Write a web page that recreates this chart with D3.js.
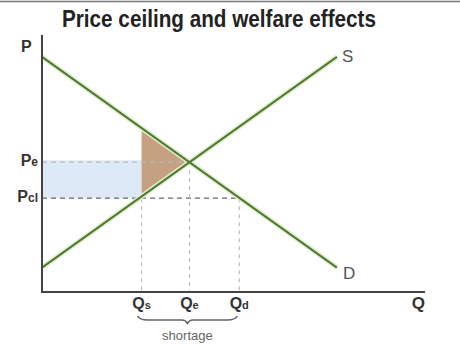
<!DOCTYPE html>
<html>
<head>
<meta charset="utf-8">
<script src="https://cdn.jsdelivr.net/npm/d3@7"></script>
<style>
  html, body { margin: 0; padding: 0; background: #fff; }
  svg { display: block; font-family: "Liberation Sans", Arial, sans-serif; }
</style>
</head>
<body>
<div id="chart"></div>
<script>
// curve endpoints in (quantity, price) units
const demandPts = [[0, 9.15], [7.7, 0.95]];
const supplyPts = [[0, 0.95], [7.7, 9.15]];
const Pe = 5.05, Pcl = 3.65;
const Qs = 2.6, Qe = 3.85, Qd = 5.15;
const dwlPts = [[2.6, 6.38], [3.85, 5.05], [2.6, 3.72]];
const qLabels = [
  { q: Qs, main: "Q", sub: "s" },
  { q: Qe, main: "Q", sub: "e" },
  { q: Qd, main: "Q", sub: "d" }
];
const pLabels = [
  { p: Pe, main: "P", sub: "e" },
  { p: Pcl, main: "P", sub: "cl" }
];

const W = 460, H = 354;
const svg = d3.select('#chart').append('svg')
  .attr('width', W).attr('height', H);

const x = d3.scaleLinear().domain([0, 10]).range([42, 425]);
const y = d3.scaleLinear().domain([0, 10]).range([292, 35]);

// top frame line
svg.append('line')
  .attr('x1', 0).attr('x2', W).attr('y1', 1.5).attr('y2', 1.5)
  .attr('stroke', '#777').attr('stroke-width', 1.5);

// title
svg.append('text')
  .attr('x', 62).attr('y', 27)
  .attr('textLength', 314).attr('lengthAdjust', 'spacingAndGlyphs')
  .style('font-size', '23px').style('font-weight', 'bold')
  .attr('fill', '#222')
  .text('Price ceiling and welfare effects');

// light blue area (transfer)
svg.append('rect')
  .attr('x', x(0)).attr('y', y(Pe) - 2)
  .attr('width', x(Qs) - x(0)).attr('height', y(Pcl) - y(Pe) + 2)
  .attr('fill', '#dde9f6');

// deadweight loss
svg.append('path')
  .attr('d', d3.line().x(d => x(d[0])).y(d => y(d[1]))(dwlPts) + 'Z')
  .attr('fill', '#c6a181');

// dashed guides
const guide = svg.append('g').attr('fill', 'none');
guide.append('line')
  .attr('x1', x(0)).attr('x2', x(Qe)).attr('y1', y(Pe)).attr('y2', y(Pe))
  .attr('stroke', '#bbb').attr('stroke-width', 1.2).attr('stroke-dasharray', '5,4');
guide.append('line')
  .attr('x1', x(0)).attr('x2', x(Qd)).attr('y1', y(Pcl)).attr('y2', y(Pcl))
  .attr('stroke', '#666').attr('stroke-width', 1.2).attr('stroke-dasharray', '5,4');
[[Qs, Pcl], [Qe, Pe], [Qd, Pcl]].forEach(([q, p]) => {
  guide.append('line')
    .attr('x1', x(q)).attr('x2', x(q)).attr('y1', y(p)).attr('y2', y(0))
    .attr('stroke', '#bbb').attr('stroke-width', 1.2).attr('stroke-dasharray', '4,4');
});

// curves
const line = d3.line().x(d => x(d[0])).y(d => y(d[1]));
[demandPts, supplyPts].forEach(pts => {
  svg.append('path').attr('d', line(pts))
    .attr('stroke', '#e3eed2').attr('stroke-width', 5).attr('fill', 'none');
});
[demandPts, supplyPts].forEach(pts => {
  svg.append('path').attr('d', line(pts))
    .attr('stroke', '#4e7b30').attr('stroke-width', 2).attr('fill', 'none');
});

svg.append('text')
  .attr('x', x(supplyPts[1][0]) + 5).attr('y', y(supplyPts[1][1]) + 5)
  .style('font-size', '17px').attr('fill', '#555').text('S');
svg.append('text')
  .attr('x', x(demandPts[1][0]) + 6).attr('y', y(demandPts[1][1]) + 11)
  .style('font-size', '17px').attr('fill', '#555').text('D');

// axes
svg.append('path')
  .attr('d', `M${x(0)},${y(10)}V${y(0)}H${x(10)}`)
  .attr('stroke', '#444').attr('stroke-width', 2).attr('fill', 'none');

svg.append('text')
  .attr('x', 21).attr('y', 52)
  .style('font-size', '16px').style('font-weight', 'bold')
  .attr('fill', '#333').text('P');
svg.append('text')
  .attr('x', x(10)).attr('y', 309).attr('text-anchor', 'end')
  .style('font-size', '17px').style('font-weight', 'bold')
  .attr('fill', '#333').text('Q');

// price labels
pLabels.forEach(d => {
  const t = svg.append('text')
    .attr('x', 38).attr('y', y(d.p) + 4).attr('text-anchor', 'end')
    .style('font-weight', 'bold').attr('fill', '#3a3330');
  t.append('tspan').style('font-size', '16px').text(d.main);
  t.append('tspan').style('font-size', '12px').text(d.sub);
});

// quantity labels
qLabels.forEach(d => {
  const t = svg.append('text')
    .attr('x', x(d.q)).attr('y', 309).attr('text-anchor', 'middle')
    .style('font-weight', 'bold').attr('fill', '#333');
  t.append('tspan').style('font-size', '16px').text(d.main);
  t.append('tspan').style('font-size', '11px').text(d.sub);
});

// shortage brace
const bx0 = x(Qs) - 4, bx1 = x(Qd) - 2, bm = (bx0 + bx1) / 2, by = 316;
svg.append('path')
  .attr('d', `M${bx0},${by} Q${bx0 + 2},${by + 4} ${bx0 + 10},${by + 4} L${bm - 6},${by + 4} Q${bm - 1},${by + 4} ${bm},${by + 8} Q${bm + 1},${by + 4} ${bm + 6},${by + 4} L${bx1 - 10},${by + 4} Q${bx1 - 2},${by + 4} ${bx1},${by}`)
  .attr('stroke', '#666').attr('stroke-width', 1.6).attr('fill', 'none');
svg.append('text')
  .attr('x', bm).attr('y', 340).attr('text-anchor', 'middle')
  .style('font-size', '13px').attr('fill', '#666').text('shortage');
</script>
</body>
</html>
